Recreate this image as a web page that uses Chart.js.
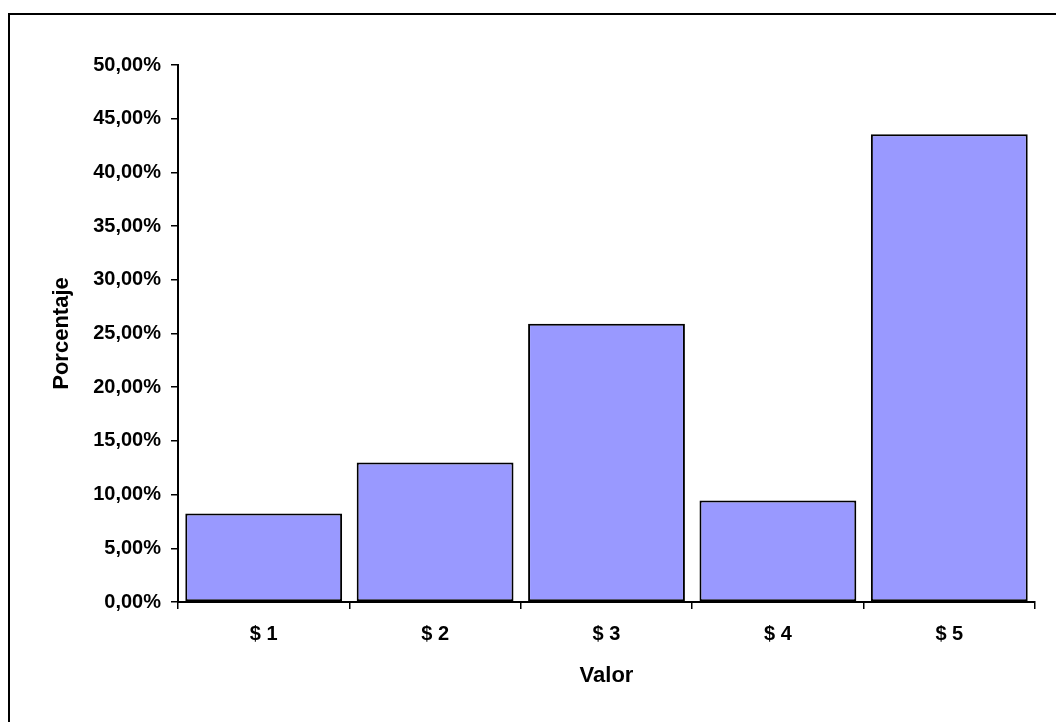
<!DOCTYPE html>
<html>
<head>
<meta charset="utf-8">
<script src="https://cdn.jsdelivr.net/npm/chart.js@4/dist/chart.umd.min.js"></script>
<style>
  html, body { margin: 0; padding: 0; background: #fff; overflow: hidden; }
  #frame { position: absolute; left: 8px; top: 13px; width: 1200px; height: 900px; border: 2px solid #000; box-sizing: border-box; }
  #wrap { position: absolute; left: 0; top: 0; width: 1056px; height: 722px; }
</style>
</head>
<body>
<div id="frame"></div>
<div id="wrap"><canvas id="chart"></canvas></div>
<script>
// Data
const categories = ['$ 1', '$ 2', '$ 3', '$ 4', '$ 5'];
const percentages = [8.25, 13.0, 25.9, 9.45, 43.55];
const yTicks = { min: 0, max: 50, step: 5 };

const fontFamily = "'Liberation Sans', Arial, sans-serif";

function pctLabel(value) {
  return value.toFixed(2).replace('.', ',') + '%';
}

const ctx = document.getElementById('chart').getContext('2d');
const chart = new Chart(ctx, {
  type: 'bar',
  data: {
    labels: categories,
    datasets: [{
      label: 'Porcentaje',
      data: percentages,
      backgroundColor: '#9999FF',
      borderColor: '#000',
      borderWidth: 2,
      borderSkipped: false,
      barPercentage: 0.915,
      categoryPercentage: 1.0
    }]
  },
  options: {
    responsive: true,
    maintainAspectRatio: false,
    animation: false,
    layout: {
      padding: { left: 45, top: 65, right: 21, bottom: 29 }
    },
    plugins: {
      legend: { display: false },
      tooltip: { enabled: false }
    },
    scales: {
      x: {
        grid: {
          offset: true,
          drawOnChartArea: false,
          drawTicks: true,
          tickLength: 7,
          color: '#000',
          lineWidth: 1.5
        },
        border: { display: true, color: '#000', width: 2 },
        ticks: {
          color: '#000',
          padding: 13,
          font: { family: fontFamily, size: 20, weight: 'bold' }
        },
        title: {
          display: true,
          text: 'Valor',
          color: '#000',
          padding: 4,
          font: { family: fontFamily, size: 22, weight: 'bold' }
        },
        afterFit: function(scale) {
          scale.height = 91;
        }
      },
      y: {
        min: yTicks.min,
        max: yTicks.max,
        grid: {
          drawOnChartArea: false,
          drawTicks: true,
          tickLength: 7,
          color: '#000',
          lineWidth: 1.5
        },
        border: { display: true, color: '#000', width: 2 },
        ticks: {
          stepSize: yTicks.step,
          color: '#000',
          padding: 10,
          font: { family: fontFamily, size: 20, weight: 'bold' },
          callback: function(value) {
            return pctLabel(value);
          }
        },
        title: {
          display: true,
          text: 'Porcentaje',
          color: '#000',
          padding: 4,
          font: { family: fontFamily, size: 22, weight: 'bold' }
        },
        afterFit: function(scale) {
          scale.width = 133;
        }
      }
    }
  }
});
</script>
</body>
</html>
